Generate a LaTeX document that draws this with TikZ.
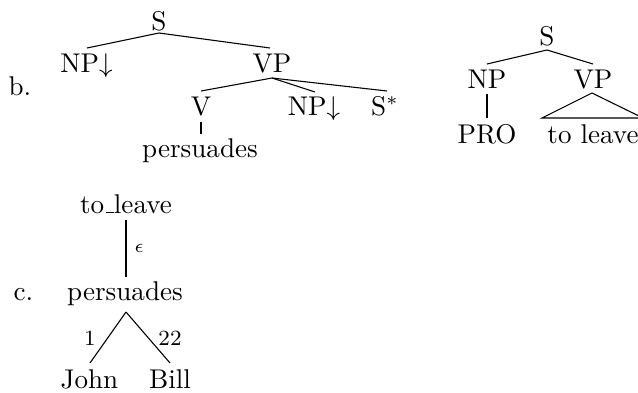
\documentclass[tikz,border=0pt]{standalone}
\usetikzlibrary{calc}
% classic narrow underscore rule
\newcommand{\undrule}{\leavevmode\kern.06em\vbox{\hrule width.3em}}
\begin{document}
\begin{tikzpicture}[x=0.369pt,y=-0.369pt,
  word/.style={inner sep=0pt,anchor=base},
  tag/.style={inner sep=0pt,anchor=base west},
  arc/.style={line width=0.4pt},
  num/.style={inner sep=0pt,anchor=base,font=\footnotesize}]
\useasboundingbox (0,0) rectangle (638,392);

% (b) elementary tree anchored by "persuades"
\node[tag]  (lb)    at (8,95)    {b.};
\node[word] (s1)    at (159,30)  {S};
\node[word] (np1)   at (86.5,72) {NP$\downarrow$};
\node[word] (vp1)   at (272,72)  {VP};
\node[word] (v1)    at (201,115) {V};
\node[word] (np2)   at (314,115) {NP$\downarrow$};
\node[word] (sf)    at (385,115) {S$^*$};
\node[word] (pers1) at (200,157) {persuades};
\draw[arc] ($(s1.base)+(0,3)$) -- ($(np1.base)+(0.5,-24)$);
\draw[arc] ($(s1.base)+(0,3)$) -- ($(vp1.base)+(-2,-24)$);
\draw[arc] ($(vp1.base)+(0,6)$) -- ($(v1.base)+(0,-24)$);
\draw[arc] ($(vp1.base)+(0,6)$) -- ($(np2.base)+(1,-23)$);
\draw[arc] ($(vp1.base)+(0,6)$) -- ($(sf.base)+(2,-24)$);
\draw[arc] ($(v1.base)+(0,7)$) -- ($(pers1.base)+(1,-23)$);

% derived tree for the infinitive
\node[word] (s2)  at (547,45)  {S};
\node[word] (np3) at (487,88)  {NP};
\node[word] (vp3) at (593,88)  {VP};
\node[word] (pro) at (487,143) {PRO};
\node[word] (tl)  at (593,143) {to leave};
\draw[arc] ($(s2.base)+(0,5)$) -- ($(np3.base)+(0,-24)$);
\draw[arc] ($(s2.base)+(0,5)$) -- ($(vp3.base)+(0,-24)$);
\draw[arc] ($(np3.base)+(0,6)$) -- ($(pro.base)+(0,-25)$);
\draw[arc] ($(vp3.base)+(-1,5)$) -- ($(tl.base)+(-51,-25)$)
                                 -- ($(tl.base)+(50,-25)$) -- cycle;

% (c) derivation tree
\node[tag]  (lc)    at (13,300)    {c.};
\node[word] (tl2)   at (126,213)   {to\undrule leave};
\node[word] (pers2) at (125,300)   {persuades};
\node[word] (john)  at (89.5,388)  {John};
\node[word] (bill)  at (170,388)   {Bill};
\draw[arc] ($(tl2.base)+(0,7)$) -- node[right=3pt,inner sep=0pt,font=\scriptsize] {$\epsilon$} ($(pers2.base)+(1,-23)$);
\draw[arc] ($(pers2.base)+(1,12)$) -- ($(john.base)+(0.5,-25)$);
\draw[arc] ($(pers2.base)+(1,12)$) -- ($(bill.base)+(0,-25)$);
\node[num] (e1)  at (90,345)  {1};
\node[num] (e22) at (170,345) {22};
\end{tikzpicture}
\end{document}
